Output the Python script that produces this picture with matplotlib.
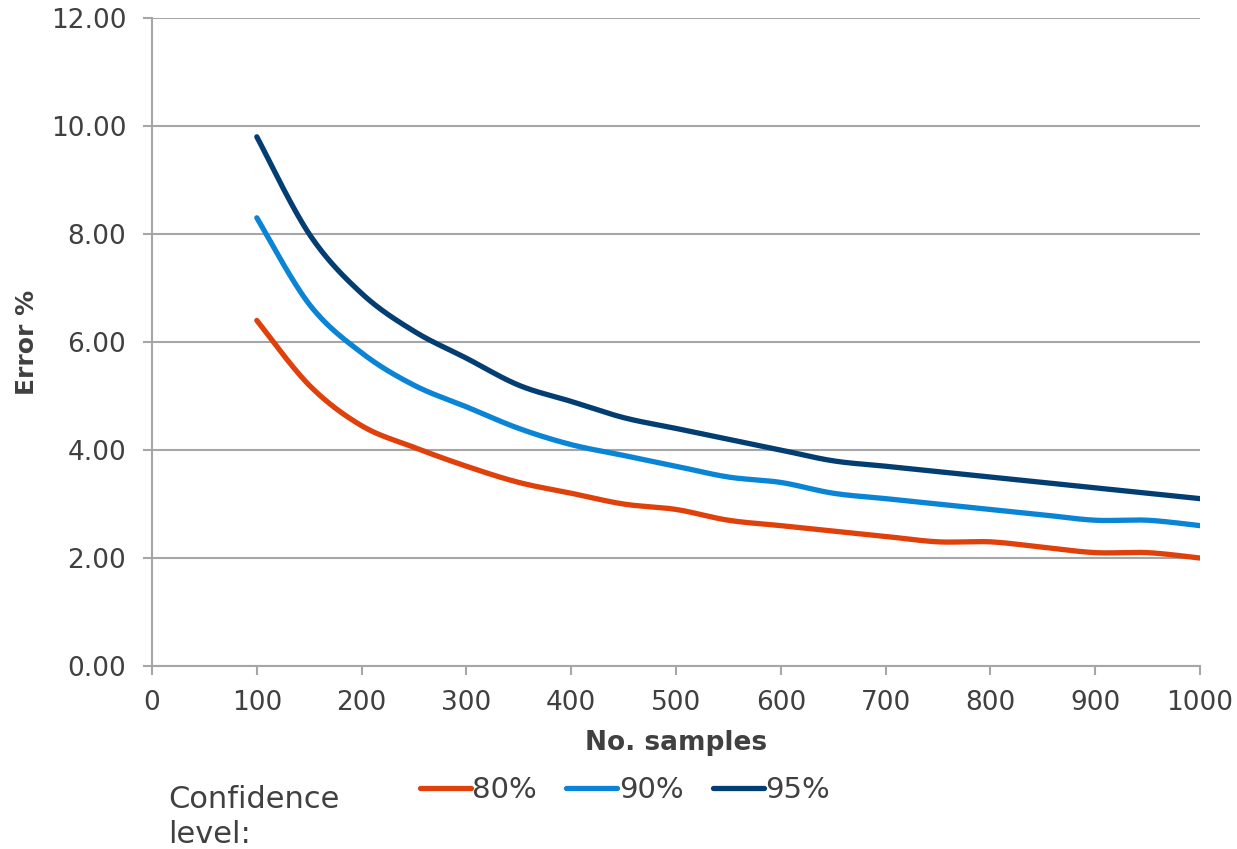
import matplotlib
matplotlib.use("Agg")
import matplotlib.pyplot as plt
import numpy as np

# sample sizes and error (%) per confidence level
samples = [100, 150, 200, 250, 300, 350, 400, 450, 500, 550,
           600, 650, 700, 750, 800, 850, 900, 950, 1000]
err_80 = [6.4, 5.2, 4.45, 4.05, 3.7, 3.4, 3.2, 3.0, 2.9, 2.7,
          2.6, 2.5, 2.4, 2.3, 2.3, 2.2, 2.1, 2.1, 2.0]
err_90 = [8.3, 6.7, 5.8, 5.2, 4.8, 4.4, 4.1, 3.9, 3.7, 3.5,
          3.4, 3.2, 3.1, 3.0, 2.9, 2.8, 2.7, 2.7, 2.6]
err_95 = [9.8, 8.0, 6.9, 6.2, 5.7, 5.2, 4.9, 4.6, 4.4, 4.2,
          4.0, 3.8, 3.7, 3.6, 3.5, 3.4, 3.3, 3.2, 3.1]
labels = ["80%", "90%", "95%"]
colors = ["#E0400A", "#0A84D4", "#033E73"]
xticks = list(range(0, 1001, 100))
yticks = [0, 2, 4, 6, 8, 10, 12]

TXT = "#404040"
GRID = "#A6A6A6"


def smooth(x, y, n=30):
    # Excel style smoothed line (Catmull-Rom through the points)
    x = np.asarray(x, float)
    y = np.asarray(y, float)
    px = np.concatenate([[x[0]], x, [x[-1]]])
    py = np.concatenate([[y[0]], y, [y[-1]]])
    t = np.linspace(0, 1, n, endpoint=False)
    xs, ys = [], []
    for i in range(1, len(px) - 2):
        for p, out in ((px, xs), (py, ys)):
            p0, p1, p2, p3 = p[i - 1], p[i], p[i + 1], p[i + 2]
            out.extend(0.5 * (2 * p1 + (-p0 + p2) * t
                              + (2 * p0 - 5 * p1 + 4 * p2 - p3) * t ** 2
                              + (-p0 + 3 * p1 - 3 * p2 + p3) * t ** 3))
    xs.append(x[-1])
    ys.append(y[-1])
    return xs, ys


fig = plt.figure(figsize=(12.37, 8.49), dpi=100)
ax = fig.add_axes([0.1229, 0.2155, 0.8472, 0.7633])

for vals, lab, c in zip([err_80, err_90, err_95], labels, colors):
    sx, sy = smooth(samples, vals)
    ax.plot(sx, sy, color=c, lw=3.8, label=lab, solid_capstyle="round", zorder=3)

ax.set_xlim(0, 1000)
ax.set_ylim(0, 12)
ax.set_xticks(xticks)
ax.set_yticks(yticks)
ax.set_yticklabels([f"{v:.2f}" for v in yticks])
ax.grid(axis="y", color=GRID, lw=1.5)
ax.set_axisbelow(True)
for s in ["top", "right"]:
    ax.spines[s].set_visible(False)
for s in ["left", "bottom"]:
    ax.spines[s].set_color(GRID)
    ax.spines[s].set_linewidth(1.5)
ax.tick_params(axis="both", colors=GRID, width=1.5, length=6.5, labelsize=19,
               labelcolor=TXT)
ax.tick_params(axis="y", pad=12)
ax.tick_params(axis="x", pad=11)

ax.set_xlabel("No. samples", fontsize=19, fontweight="bold", color=TXT, labelpad=10)
ax.set_ylabel("Error %", fontsize=18, fontweight="bold", color=TXT)
ax.yaxis.set_label_coords(-0.108, 0.5)

fig.text(0.1358, 0.038, "Confidence\nlevel:", fontsize=22, color=TXT,
         va="center", ha="left", linespacing=1.25)
fig.legend(loc="center left", bbox_to_anchor=(0.3395, 0.0695), ncol=3, frameon=False,
           fontsize=21, handlelength=1.75, handletextpad=0.05, columnspacing=1.0,
           labelcolor=TXT, borderaxespad=0, borderpad=0)

fig.savefig("out.png", dpi=100)
